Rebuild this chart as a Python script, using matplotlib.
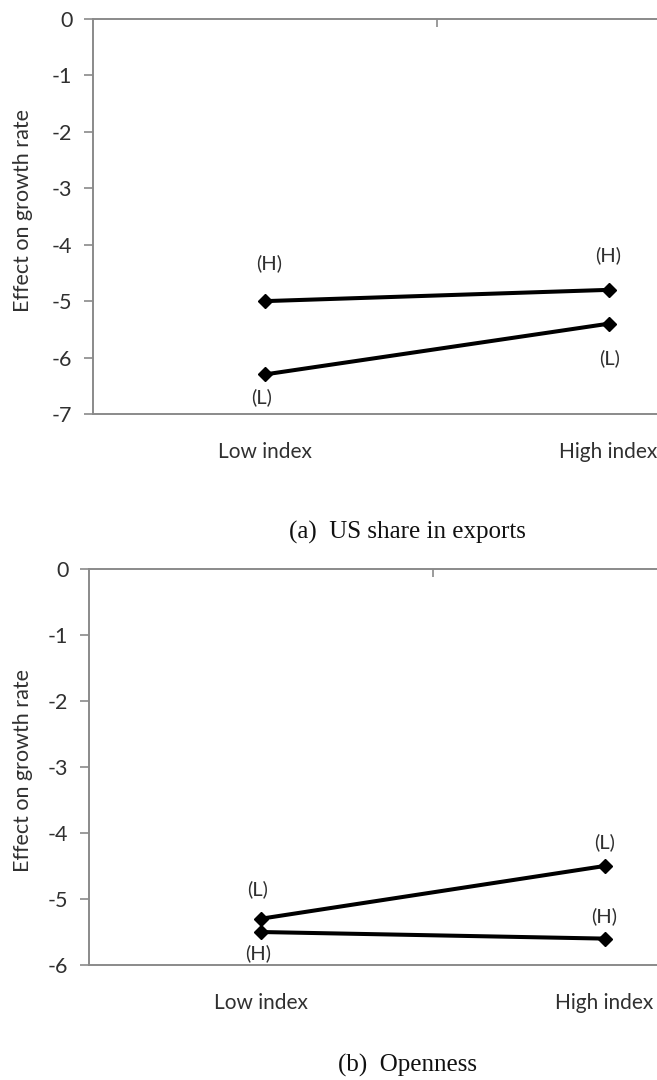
import numpy as np
import matplotlib
matplotlib.use('Agg')
import matplotlib.pyplot as plt

# categories on the x axis
categories = ['Low index', 'High index']

# panel (a): US share in exports
us_high = [-5.0, -4.8]
us_low = [-6.3, -5.4]

# panel (b): Openness
open_low = [-5.3, -4.5]
open_high = [-5.5, -5.6]

panels = [
    {'title': '(a)  US share in exports', 'ymin': -7,
     'series': [(us_high, ['(H)', '(H)']), (us_low, ['(L)', '(L)'])],
     # label offsets in points (dx, dy) for each point of each series
     'offsets': [[(3, 27), (0, 25)], [(-2, -16), (1, -25)]],
     'rect': [92.5, 19, 414], 'ylab': 211, 'cap': 532},
    {'title': '(b)  Openness', 'ymin': -6,
     'series': [(open_low, ['(L)', '(L)']), (open_high, ['(H)', '(H)'])],
     'offsets': [[(-2, 21), (0, 17)], [(-2, -15), (0, 16)]],
     'rect': [88.5, 569, 965], 'ylab': 770, 'cap': 1065},
]

W, H = 657, 1080
fig = plt.figure(figsize=(W / 100, H / 100), dpi=100)

tick_font = 'Lato'
gray = '#8a8a8a'
txt = '#303030'
x = np.arange(len(categories)) + 0.5

for p in panels:
    left, top, bottom = p['rect']
    # category width ~344 px, axis runs past the right edge of the picture
    width_px = 344 * len(categories)
    ax = fig.add_axes([left / W, 1 - bottom / H, width_px / W, (bottom - top) / H])
    ax.set_xlim(0, len(categories))
    ax.set_ylim(p['ymin'], 0)

    for (vals, labs), offs in zip(p['series'], p['offsets']):
        ax.plot(x, vals, color='black', linewidth=2.9, marker='D',
                markersize=7, markeredgewidth=1, markerfacecolor='black',
                clip_on=False, zorder=3)
        for xi, v, lab, (dx, dy) in zip(x, vals, labs, offs):
            ax.annotate(lab, (xi, v), xytext=(dx, dy), textcoords='offset points',
                        ha='center', va='center', fontsize=14.5,
                        family=tick_font, color=txt)

    for s in ['left', 'top', 'bottom']:
        ax.spines[s].set_color(gray)
        ax.spines[s].set_linewidth(1.4)
    ax.spines['right'].set_visible(False)

    ax.set_yticks(np.arange(p['ymin'], 1, 1))
    ax.set_yticklabels([str(v) for v in range(p['ymin'], 1)])
    ax.tick_params(axis='y', direction='out', length=6.5, width=1.2, color=gray,
                   pad=8, labelsize=15.5, labelcolor=txt)

    ax.set_xticks(x)
    ax.set_xticklabels(categories)
    ax.set_xticks([1.0], minor=True)
    ax.tick_params(axis='x', which='major', length=0, pad=20,
                   labelsize=15, labelcolor=txt)
    ax.tick_params(axis='x', which='minor', top=True, bottom=False,
                   direction='in', length=6, width=1.2, color=gray)
    for lab in ax.get_xticklabels() + ax.get_yticklabels():
        lab.set_family(tick_font)

    fig.text(23 / W, 1 - p['ylab'] / H, 'Effect on growth rate', rotation=90,
             ha='center', va='center', fontsize=15.5, family=tick_font, color=txt)
    fig.text(407 / W, 1 - p['cap'] / H, p['title'], ha='center', va='center',
             fontsize=18, family='Liberation Serif', color='#111111')

fig.savefig('out.png', dpi=100)
